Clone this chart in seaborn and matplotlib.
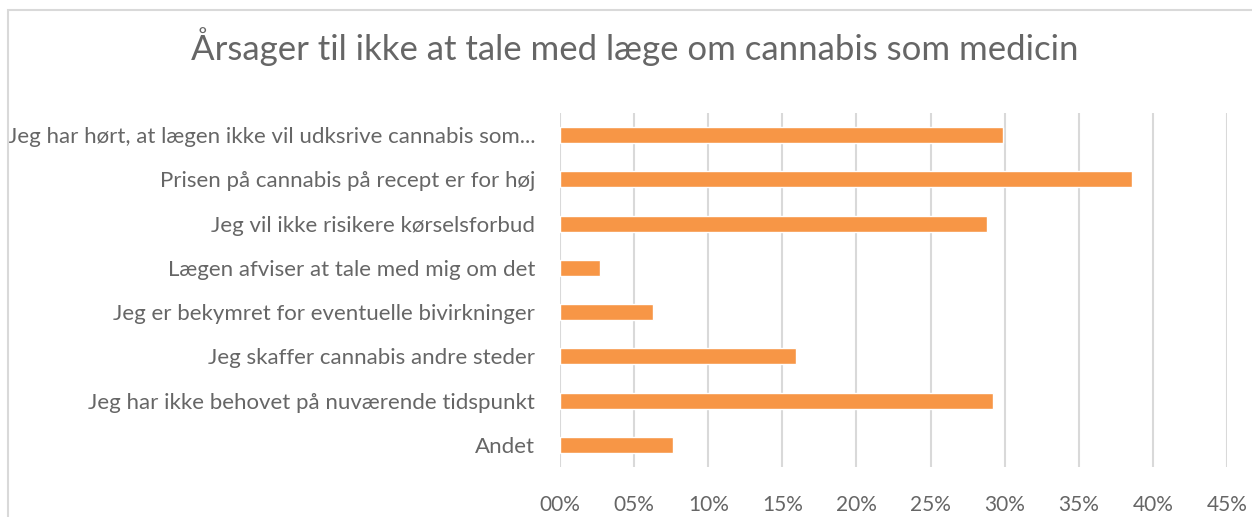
import numpy as np
import pandas as pd
import matplotlib
matplotlib.use('Agg')
import matplotlib.pyplot as plt
import seaborn as sns
from matplotlib.patches import Rectangle

# ============================================================
# DATA
# ============================================================

reasons = [
    'Jeg har hørt, at lægen ikke vil udksrive cannabis som...',
    'Prisen på cannabis på recept er for høj',
    'Jeg vil ikke risikere kørselsforbud',
    'Lægen afviser at tale med mig om det',
    'Jeg er bekymret for eventuelle bivirkninger',
    'Jeg skaffer cannabis andre steder',
    'Jeg har ikke behovet på nuværende tidspunkt',
    'Andet',
]
shares = [29.9, 38.6, 28.8, 2.7, 6.3, 15.9, 29.2, 7.6]
tick_values = [0, 5, 10, 15, 20, 25, 30, 35, 40, 45]
tick_labels = ['00%', '05%', '10%', '15%', '20%', '25%', '30%', '35%', '40%', '45%']

df = pd.DataFrame({'reason': reasons, 'share': shares})

# ============================================================
# PLOT
# ============================================================

sns.set_theme(style='white')
plt.rcParams['font.family'] = ['Lato', 'DejaVu Sans']

text_color = '#666666'
grid_color = '#D9D9D9'

fig = plt.figure(figsize=(12.52, 5.17), dpi=100)
ax = fig.add_axes([560 / 1252, 1 - 467 / 517, (1227 - 560) / 1252, (467 - 113) / 517])

sns.barplot(data=df, x='share', y='reason', orient='h', color='#F79646',
            saturation=1, width=0.36, ax=ax)

ax.set_xlim(0, 45)
ax.set_xticks(tick_values)
ax.set_xticklabels(tick_labels)
ax.grid(axis='x', color=grid_color, linewidth=1.5)
ax.set_axisbelow(True)
for side in ['top', 'right', 'bottom', 'left']:
    ax.spines[side].set_visible(False)
ax.set_xlabel('')
ax.set_ylabel('')
ax.tick_params(axis='both', length=0, colors=text_color)
ax.tick_params(axis='y', pad=18, labelsize=16)
ax.tick_params(axis='x', pad=20, labelsize=15)

fig.text(635 / 1252, 1 - 47 / 517, 'Årsager til ikke at tale med læge om cannabis som medicin',
         ha='center', va='center', fontsize=25, color=text_color)

# chart area border (cropped at right/bottom in the reference)
fig.patches.append(Rectangle((8 / 1252, -0.1), 1.2, 1 - 10 / 517 + 0.1,
                             transform=fig.transFigure, fill=False,
                             edgecolor=grid_color, linewidth=1.5))

plt.savefig('out.png', dpi=100)
